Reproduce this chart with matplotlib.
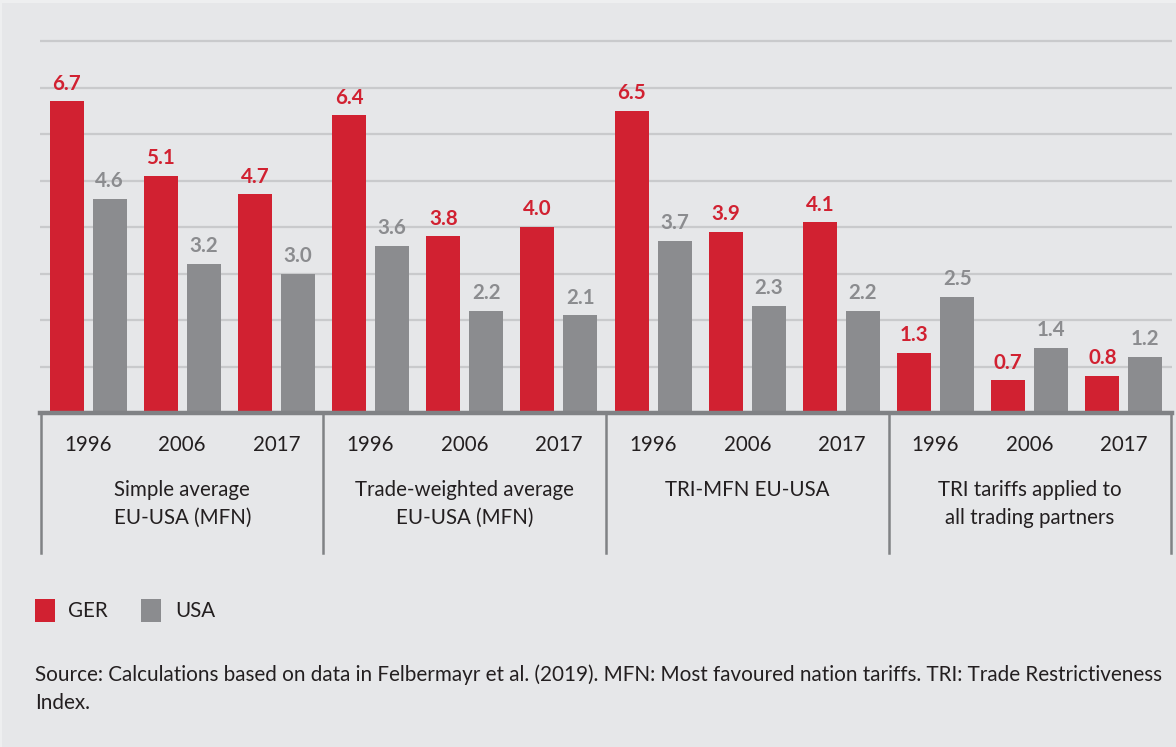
import matplotlib
matplotlib.use("Agg")
import matplotlib.pyplot as plt
from matplotlib.patches import Rectangle

# ---- data ----
groups = ["Simple average\nEU-USA (MFN)", "Trade-weighted average\nEU-USA (MFN)",
          "TRI-MFN EU-USA", "TRI tariffs applied to\nall trading partners"]
years = ["1996", "2006", "2017"]
ger = [6.7, 5.1, 4.7, 6.4, 3.8, 4.0, 6.5, 3.9, 4.1, 1.3, 0.7, 0.8]
usa = [4.6, 3.2, 3.0, 3.6, 2.2, 2.1, 3.7, 2.3, 2.2, 2.5, 1.4, 1.2]
series_names = ["GER", "USA"]
source = ("Source: Calculations based on data in Felbermayr et al. (2019). MFN: Most favoured nation tariffs. TRI: Trade Restrictiveness\n"
          "Index.")

RED = "#d12131"
GRAY = "#8b8c8f"
BG = "#e6e7e9"
TXT = "#231f20"
GRID = "#c9cacc"
AXIS = "#808285"

plt.rcParams['font.family'] = ['Lato', 'DejaVu Sans']

fig = plt.figure(figsize=(11.76, 7.47), dpi=100)
fig.patch.set_facecolor(BG)
W, H = 1176, 747

# light edge strips (top / left)
fig.patches.append(Rectangle((0, 1 - 3 / H), 1, 3 / H, transform=fig.transFigure,
                             facecolor="#eeeff0", edgecolor="none"))
fig.patches.append(Rectangle((0, 0), 2 / W, 1, transform=fig.transFigure,
                             facecolor="#eeeff0", edgecolor="none"))

# axes: x 40..1172 px, y 38.7..413 px
ax = fig.add_axes([40 / W, 1 - 413 / H, (1172 - 40) / W, (413 - 38.7) / H])
ax.set_facecolor(BG)

n = len(ger)
xs = list(range(n))
bw = 0.361
off = 0.2285
ax.bar([x - off for x in xs], ger, width=bw, color=RED, zorder=3)
ax.bar([x + off for x in xs], usa, width=bw, color=GRAY, zorder=3)

ax.set_xlim(-0.51, n - 0.49)
ax.set_ylim(0, 8.05)
for v in range(1, 9):
    ax.axhline(v, color=GRID, lw=1.6, zorder=1)
ax.axhline(0, color=AXIS, lw=3.2, zorder=4, clip_on=False)

for s in ax.spines.values():
    s.set_visible(False)
ax.set_xticks([])
ax.set_yticks([])

# value labels
for x, g, u in zip(xs, ger, usa):
    ax.annotate(f"{g:.1f}", (x - off, g), xytext=(0, 8.5), textcoords="offset points",
                ha="center", va="baseline", color=RED, fontsize=14.8, fontweight="bold")
    ax.annotate(f"{u:.1f}", (x + off, u), xytext=(0, 8.5), textcoords="offset points",
                ha="center", va="baseline", color=GRAY, fontsize=14.8, fontweight="bold")

# separators
ppu = (413 - 38.7) / 8.05
ylow = -(553 - 413) / ppu
for k in range(len(groups) + 1):
    xsep = -0.5 + 3 * k
    ax.plot([xsep, xsep], [0, ylow], color=AXIS, lw=1.8, clip_on=False, zorder=2)

# year labels
yy = -(445 - 413) / ppu
for x in xs:
    ax.text(x, yy, years[x % 3], ha="center", va="center", fontsize=14.8, color=TXT)

# group labels
for k, gname in enumerate(groups):
    cx = 3 * k + 1
    for j, line in enumerate(gname.split("\n")):
        yl = -(490 + 28 * j - 413) / ppu
        ax.text(cx, yl, line, ha="center", va="center", fontsize=14.8, color=TXT)

# legend
fig.patches.append(Rectangle((35 / W, 1 - 622 / H), 20 / W, 23 / H, transform=fig.transFigure,
                             facecolor=RED, edgecolor="none"))
fig.text(68 / W, 1 - 611 / H, series_names[0], ha="left", va="center", fontsize=14.8, color=TXT)
fig.patches.append(Rectangle((141 / W, 1 - 622 / H), 20 / W, 23 / H, transform=fig.transFigure,
                             facecolor=GRAY, edgecolor="none"))
fig.text(175 / W, 1 - 611 / H, series_names[1], ha="left", va="center", fontsize=14.8, color=TXT)

# source
for j, line in enumerate(source.split("\n")):
    fig.text(35 / W, 1 - (675 + 28 * j) / H, line, ha="left", va="center", fontsize=14.85, color=TXT)

fig.savefig("out.png", dpi=100, facecolor=BG)
